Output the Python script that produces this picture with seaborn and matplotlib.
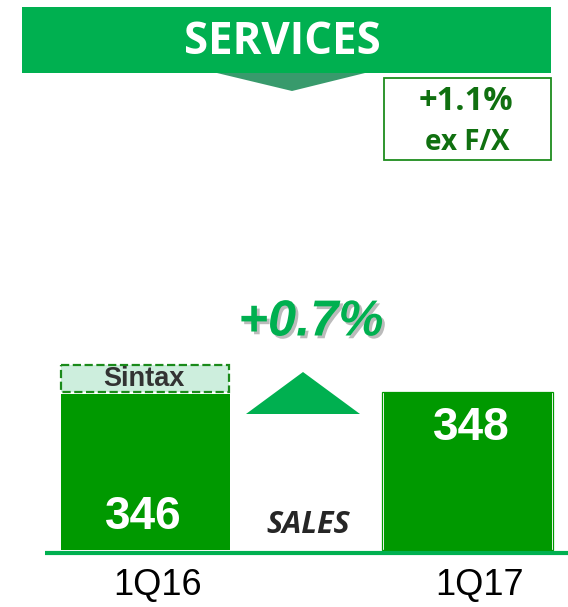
import matplotlib
matplotlib.use('Agg')
import matplotlib.pyplot as plt
import seaborn as sns
import pandas as pd
from matplotlib.patches import Rectangle, Polygon
import matplotlib.patheffects as pe
from matplotlib.transforms import ScaledTranslation, blended_transform_factory

# ---- data ----
periods = ['1Q16', '1Q17']
sales = [346, 348]
segment = 'SERVICES'
growth_reported = '+0.7%'
growth_exfx = '+1.1%'
exfx_label = 'ex F/X'
acquisition = 'Sintax'
metric = 'SALES'

W, H, DPI = 568, 607, 100
sns.set_theme(style='white')
plt.rcParams['font.family'] = ['Liberation Sans', 'DejaVu Sans']

BAR = '#009900'
BRIGHT = '#00b050'
DARK = '#107010'

fig = plt.figure(figsize=(W / DPI, H / DPI), dpi=DPI)
ax = fig.add_axes([0, 0, 1, 1])
df = pd.DataFrame({'period': periods, 'sales': sales})
sns.barplot(data=df, x='period', y='sales', color=BAR, width=0.524,
            saturation=1, ax=ax, zorder=2, edgecolor='none', linewidth=0)
spacing = 322.5
c0 = 145.5
ax.set_xlim(-c0 / spacing, (W - c0) / spacing)
k = sales[0] / 156.0
ax.set_ylim(-57 * k, 550 * k)
ax.axis('off')

ov = fig.add_axes([0, 0, 1, 1], zorder=3)
ov.set_xlim(0, W)
ov.set_ylim(H, 0)
ov.axis('off')
ov.patch.set_alpha(0)

# header banner
ov.add_patch(Polygon([(217, 73), (365, 73), (292, 91)], closed=True, fc='#389a6c', ec='none'))
ov.add_patch(Rectangle((22, 7), 529, 66, fc=BRIGHT, ec='none'))
ov.text(282, 43, segment, color='white', fontsize=31.5, fontweight='bold',
        family='Open Sans', ha='center', va='center')

# ex F/X box
ov.add_patch(Rectangle((383.5, 77.5), 167, 82, fc='white', ec='#1e8c1e', lw=1.3))
ov.text(466, 102, growth_exfx, color=DARK, fontsize=23.5, fontweight='bold',
        family='Open Sans', ha='center', va='center')
ov.text(467, 142, exfx_label, color=DARK, fontsize=20, fontweight='bold',
        family='Open Sans', ha='center', va='center')

# Sintax box
ov.add_patch(Rectangle((61, 365), 168, 27, fc='#cdeedd', ec='#1a8a1a', ls='--', lw=1.6))
ov.text(144, 379, acquisition, color='#333333', fontsize=19.5, fontweight='bold',
        ha='center', va='center')

# growth arrow + label
ov.add_patch(Polygon([(246, 414), (360, 414), (303, 372)], closed=True, fc=BRIGHT, ec='none'))
ov.text(311, 322, growth_reported, color=BRIGHT, fontsize=36.5, fontweight='bold',
        style='italic', ha='center', va='center',
        path_effects=[pe.withSimplePatchShadow(offset=(2, -2), shadow_rgbFace='#555555', alpha=0.4)])

# bar 2 outline
ov.add_patch(Rectangle((381.5, 391.5), 171, 158.5, fill=False, ec=BAR, lw=0.9))

# value labels
ov.text(143, 517, str(sales[0]), color='white', fontsize=33, fontweight='bold',
        ha='center', va='center')
ov.text(471, 428, str(sales[1]), color='white', fontsize=33, fontweight='bold',
        ha='center', va='center')

# SALES
ov.text(308, 525, metric, color='#262626', fontsize=22, fontweight='bold',
        style='italic', family='Open Sans', ha='center', va='center')

# baseline
ov.plot([45, W], [553, 553], color=BRIGHT, lw=3, solid_capstyle='butt')

# category labels
tr = blended_transform_factory(ax.transData, ov.transData) + ScaledTranslation(12 / DPI, 0, fig.dpi_scale_trans)
for i, p in enumerate(periods):
    ax.text(i, 585, p, transform=tr, fontsize=26, color='black', ha='center', va='center')

fig.savefig('out.png', dpi=DPI)
